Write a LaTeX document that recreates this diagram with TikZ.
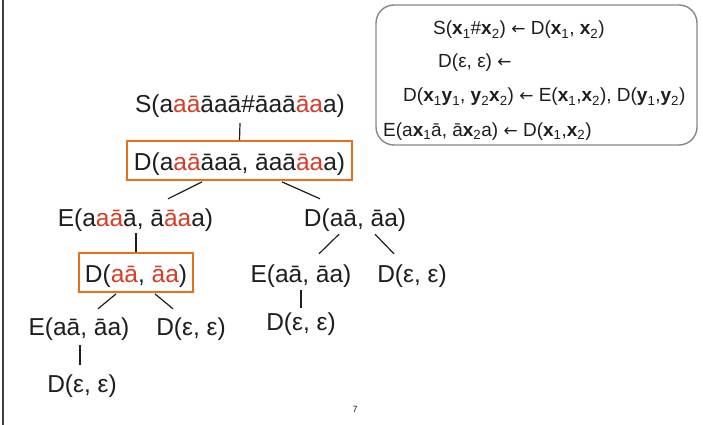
\documentclass[tikz,border=0pt]{standalone}
\usepackage{fontspec}
\setmainfont{Liberation Sans}
\newfontfamily\arrfont{DejaVu Sans}
\usetikzlibrary{calc}
\definecolor{hl}{RGB}{212,62,38}
\definecolor{bx}{RGB}{232,112,28}
\definecolor{txt}{RGB}{30,30,30}
\definecolor{rbox}{RGB}{135,135,135}
\newcommand\hl[1]{\textcolor{hl}{#1}}
\newcommand\bv[2]{\textbf{#1}\textsubscript{#2}}
\newcommand\la{{\arrfont\fontsize{17}{19}\selectfont ←}}
\begin{document}
\begin{tikzpicture}[x=1pt,y=-1pt,
  t/.style={inner sep=0pt, anchor=base, text height=18pt, text depth=5pt,
            font=\fontsize{24.5}{28}\selectfont, text=txt},
  hbox/.style={draw=bx, line width=1.8pt, inner xsep=0pt, inner ysep=7pt,
            text height=22pt, text depth=3pt, anchor=base,
            font=\fontsize{24.5}{28}\selectfont, text=txt},
  rule/.style={inner sep=0pt, anchor=base west, font=\fontsize{19}{22}\selectfont, text=txt},
  edge/.style={draw=txt, line width=1.2pt}]
\useasboundingbox (0,0) rectangle (703,425);
\draw[line width=1.5pt, black!75] (3,0) -- (3,425);

% rules box
\node (rules) [draw=rbox, line width=1.4pt, rounded corners=18pt,
  minimum width=321pt, minimum height=140pt, inner sep=0pt] at (536.5,75) {};
\node (r1) [rule] at (433,35) {S(\bv{x}{1}\#\bv{x}{2}) \la{} D(\bv{x}{1}, \bv{x}{2})};
\node (r2) [rule] at (438,68) {D(ε, ε) \la};
\node (r3) [rule] at (403,102) {D(\bv{x}{1}\bv{y}{1}, \bv{y}{2}\bv{x}{2}) \la{} E(\bv{x}{1},\bv{x}{2}), D(\bv{y}{1},\bv{y}{2})};
\node (r4) [rule] at (383,136) {E(a\bv{x}{1}ā, ā\bv{x}{2}a) \la{} D(\bv{x}{1},\bv{x}{2})};

% tree
\node (S) [t] at (240,113) {S(a\hl{aā}āaā\#āaā\hl{āa}a)};
\node (dbox) [hbox, minimum width=225pt] at (239.5,170) {D(a\hl{aā}āaā, āaā\hl{āa}a)};
\node (E) [t] at (135.5,226) {E(a\hl{aā}ā, ā\hl{āa}a)};
\node (Dr) [t] at (355,226) {D(aā, āa)};
\node (sbox) [hbox, minimum width=114pt] at (136,282) {D(\hl{aā}, \hl{āa})};
\node (Er) [t] at (301,282) {E(aā, āa)};
\node (De) [t] at (412,282) {D(ε, ε)};
\node (Dee) [t] at (301,330) {D(ε, ε)};
\node (El) [t] at (79,335) {E(aā, āa)};
\node (Dl) [t] at (191,335) {D(ε, ε)};
\node (Dbot) [t] at (82,392) {D(ε, ε)};

\node (pg) [inner sep=0pt, font=\fontsize{9}{10}\selectfont, text=txt] at (355,409) {7};

\draw[edge] ($(S.south)+(0,5)$) -- (dbox.north);
\draw[edge] ($(dbox.south)+(-37.5,1)$) -- ($(E.north)+(32.5,-9)$);
\draw[edge] ($(dbox.south)+(42.5,1)$) -- ($(Dr.north)+(-35,-9)$);
\draw[edge] ($(E.south)+(0.5,2)$) -- (sbox.north);
\draw[edge] ($(Dr.south)+(-16,3)$) -- ($(Er.north)+(18,-10)$);
\draw[edge] ($(Dr.south)+(20,3)$) -- ($(De.north)+(-18,-10)$);
\draw[edge] ($(Er.south)+(0,3)$) -- ($(Dee.north)+(0,-4)$);
\draw[edge] ($(sbox.south)+(-20,1)$) -- ($(El.north)+(19,-8)$);
\draw[edge] ($(sbox.south)+(19,1)$) -- ($(Dl.north)+(-18,-8)$);
\draw[edge] ($(El.south)+(1,5)$) -- ($(Dbot.north)+(-2,-9)$);
\end{tikzpicture}
\end{document}
